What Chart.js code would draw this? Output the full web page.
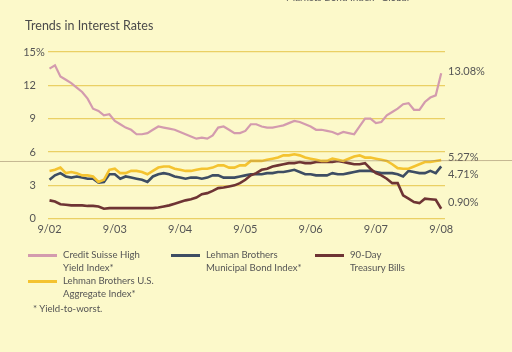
<!DOCTYPE html>
<html>
<head>
<meta charset="utf-8">
<script src="https://cdn.jsdelivr.net/npm/chart.js@4.4.1/dist/chart.umd.min.js"></script>
<style>
  html, body { margin:0; padding:0; background:#fcf9ca; }
  #wrap { position:relative; width:512px; height:352px; overflow:hidden; background:#fcf9ca; font-family:Lato, "Open Sans", sans-serif; color:#555; }
  canvas { position:absolute; left:0; top:0; }
  .t { position:absolute; white-space:nowrap; }
  .title { left:25px; top:18px; font-size:12.5px; color:#4b4b4b; }
  .leg { font-size:9.6px; line-height:13px; color:#555; }
  .sw { position:absolute; height:3px; }
</style>
</head>
<body>
<div id="wrap">
  <canvas id="c" width="512" height="352"></canvas>
  <div class="t" style="left:286px; top:-9px; font-size:10px; color:#555;">Markets Bond Index* Global</div>
  <div class="t title">Trends in Interest Rates</div>
  <div id="legend"></div>
</div>
<script>
// ---- data (monthly, 9/02 .. 9/08) ----
const tickLabels = ["9/02","9/03","9/04","9/05","9/06","9/07","9/08"];
const seriesNames = ["Credit Suisse High|Yield Index*", "Lehman Brothers U.S.|Aggregate Index*", "Lehman Brothers|Municipal Bond Index*", "90-Day|Treasury Bills"];
const highYield = [13.5,13.8,12.8,12.5,12.2,11.8,11.4,10.8,9.9,9.7,9.3,9.4,8.8,8.5,8.2,8.0,7.6,7.6,7.7,8.0,8.3,8.2,8.1,8.0,7.8,7.6,7.4,7.2,7.3,7.2,7.5,8.2,8.3,8.0,7.7,7.7,7.9,8.5,8.5,8.3,8.2,8.2,8.3,8.4,8.6,8.8,8.7,8.5,8.3,8.0,8.0,7.9,7.8,7.6,7.8,7.7,7.6,8.3,9.0,9.0,8.6,8.7,9.3,9.6,9.9,10.3,10.4,9.8,9.8,10.5,10.9,11.1,13.08];
const aggregate = [4.3,4.4,4.6,4.1,4.2,4.1,3.9,3.9,3.8,3.3,3.5,4.4,4.5,4.1,4.1,4.3,4.3,4.2,4.0,4.3,4.6,4.7,4.7,4.5,4.4,4.3,4.3,4.4,4.5,4.5,4.6,4.8,4.8,4.6,4.6,4.8,4.8,5.2,5.2,5.2,5.3,5.4,5.5,5.7,5.7,5.8,5.7,5.5,5.4,5.3,5.2,5.2,5.4,5.3,5.2,5.4,5.6,5.7,5.5,5.5,5.4,5.3,5.2,4.9,4.55,4.5,4.5,4.7,4.9,5.1,5.1,5.2,5.27];
const municipal = [3.5,3.9,4.1,3.8,3.7,3.8,3.7,3.6,3.6,3.25,3.3,4.0,4.0,3.6,3.8,3.7,3.6,3.5,3.3,3.8,4.0,4.1,4.0,3.8,3.7,3.6,3.7,3.7,3.6,3.7,3.9,3.9,3.7,3.7,3.7,3.8,3.9,4.0,4.0,4.0,4.1,4.1,4.2,4.2,4.3,4.4,4.2,4.0,4.0,3.9,3.9,3.9,4.1,4.0,4.0,4.1,4.2,4.3,4.3,4.3,4.2,4.1,4.1,4.1,4.0,3.8,4.3,4.2,4.1,4.1,4.3,4.1,4.71];
const tbills = [1.65,1.55,1.3,1.25,1.2,1.2,1.2,1.15,1.15,1.1,0.9,0.95,0.95,0.95,0.95,0.95,0.95,0.95,0.95,0.95,1.0,1.1,1.2,1.35,1.5,1.65,1.75,1.9,2.2,2.3,2.5,2.75,2.8,2.9,3.0,3.2,3.5,3.9,4.1,4.4,4.5,4.7,4.8,4.9,5.0,5.0,5.1,5.0,5.0,5.1,5.1,5.1,5.1,5.2,5.1,5.0,4.9,4.9,5.0,4.5,4.1,3.9,3.6,3.2,3.2,2.1,1.8,1.5,1.4,1.8,1.75,1.7,0.90];
const yTicks = [0,3,6,9,12,15];

const colors = ["#d39bae", "#f4c330", "#3d4d63", "#6e3434"];
const allSeries = [highYield, aggregate, municipal, tbills];
const endOffsets = [-2, -2.5, 7.7, -6.4];
const swatchPos = [[28,255],[28,281],[171,255],[315,255]];

// legend (HTML)
const legend = document.getElementById('legend');
seriesNames.forEach((n, i) => {
  const [x, y] = swatchPos[i];
  const sw = document.createElement('div');
  sw.className = 'sw';
  sw.style.cssText = `left:${x}px; top:${y-1.5}px; width:29px; background:${colors[i]};`;
  legend.appendChild(sw);
  const tx = document.createElement('div');
  tx.className = 't leg';
  tx.style.left = (x + 35) + 'px';
  tx.style.top = (y - 7) + 'px';
  tx.innerHTML = n.split('|').join('<br>');
  legend.appendChild(tx);
});
const fn = document.createElement('div');
fn.className = 't leg';
fn.style.left = '33px'; fn.style.top = '302px';
fn.textContent = '* Yield-to-worst.';
legend.appendChild(fn);

const decor = {
  id: 'decor',
  afterDraw(chart) {
    const ctx = chart.ctx;
    const ys = chart.scales.y;
    ctx.save();
    ctx.font = '11px Lato, "Open Sans", sans-serif';
    ctx.fillStyle = '#555';
    ctx.textBaseline = 'middle';
    ctx.textAlign = 'left';
    ctx.fillText('%', 36, ys.getPixelForValue(15));
    chart.data.datasets.forEach((ds, i) => {
      const meta = chart.getDatasetMeta(i);
      const last = meta.data[meta.data.length - 1];
      const v = ds.data[ds.data.length - 1].y;
      ctx.fillText(v.toFixed(2) + '%', 448, last.y + endOffsets[i]);
    });
    ctx.strokeStyle = 'rgba(150,130,100,0.55)';
    ctx.lineWidth = 1;
    ctx.beginPath();
    ctx.moveTo(0, 161.5); ctx.lineTo(512, 160.5);
    ctx.stroke();
    ctx.restore();
  }
};

new Chart(document.getElementById('c'), {
  type: 'line',
  data: {
    datasets: allSeries.map((s, i) => ({
      label: seriesNames[i].replace('|', ' '),
      data: s.map((v, j) => ({ x: j, y: v })),
      borderColor: colors[i],
      borderWidth: i === 0 ? 2.2 : 2.6,
      pointRadius: 0,
      tension: 0,
      order: [3, 0, 2, 1][i]
    }))
  },
  options: {
    responsive: false,
    animation: false,
    layout: { padding: { left: 0, top: 52, right: 67, bottom: 109.3 } },
    plugins: { legend: { display: false }, tooltip: { enabled: false } },
    scales: {
      x: {
        type: 'linear',
        min: -0.28, max: 72.7,
        afterBuildTicks: (sc) => { sc.ticks = tickLabels.map((_, k) => ({ value: k * 12 })); },
        afterFit: (sc) => { sc.height = 24; },
        grid: { display: false, drawTicks: false },
        border: { display: false },
        ticks: {
          padding: 4,
          color: '#555',
          font: { family: 'Lato, "Open Sans", sans-serif', size: 11 },
          maxRotation: 0,
          autoSkip: false,
          callback: (v) => tickLabels[Math.round(v / 12)]
        }
      },
      y: {
        min: 0, max: 15,
        afterBuildTicks: (sc) => { sc.ticks = yTicks.map(v => ({ value: v })); },
        afterFit: (sc) => { sc.width = 48; },
        grid: { color: '#ead064', lineWidth: 1.3, drawTicks: false },
        border: { display: false },
        ticks: {
          padding: 12,
          color: '#555',
          font: { family: 'Lato, "Open Sans", sans-serif', size: 11 },
          callback: (v) => String(v)
        }
      }
    }
  },
  plugins: [decor]
});
</script>
</body>
</html>
